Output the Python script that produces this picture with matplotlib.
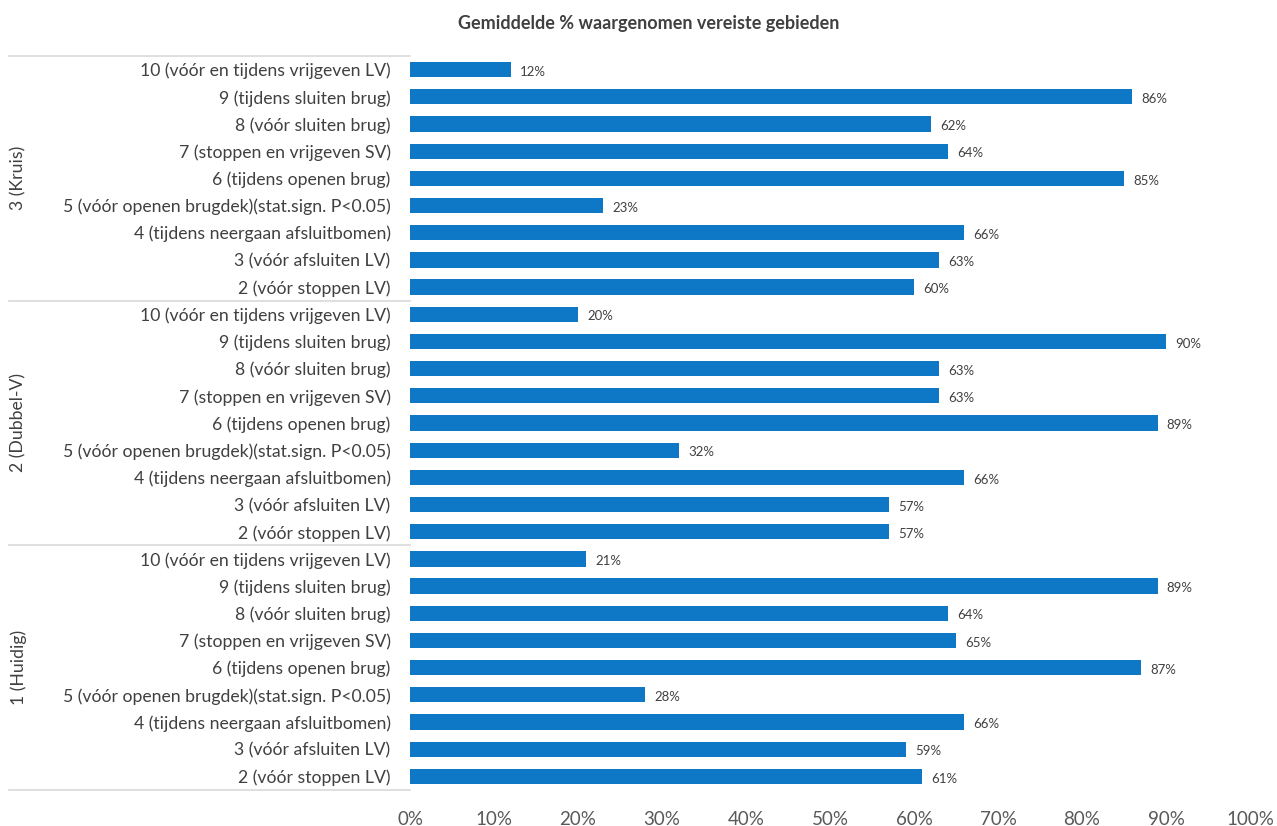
import matplotlib
matplotlib.use("Agg")
import matplotlib.pyplot as plt
from matplotlib.transforms import blended_transform_factory

title = "Gemiddelde % waargenomen vereiste gebieden"
steps = ["10 (vóór en tijdens vrijgeven LV)",
         "9 (tijdens sluiten brug)",
         "8 (vóór sluiten brug)",
         "7 (stoppen en vrijgeven SV)",
         "6 (tijdens openen brug)",
         "5 (vóór openen brugdek)(stat.sign. P<0.05)",
         "4 (tijdens neergaan afsluitbomen)",
         "3 (vóór afsluiten LV)",
         "2 (vóór stoppen LV)"]
groups = ["3 (Kruis)", "2 (Dubbel-V)", "1 (Huidig)"]
kruis = [12, 86, 62, 64, 85, 23, 66, 63, 60]
dubbel_v = [20, 90, 63, 63, 89, 32, 66, 57, 57]
huidig = [21, 89, 64, 65, 87, 28, 66, 59, 61]
xticks = [0, 10, 20, 30, 40, 50, 60, 70, 80, 90, 100]

plt.rcParams['font.family'] = ['Lato', 'DejaVu Sans']
fig = plt.figure(figsize=(12.77, 8.26), dpi=100)
ax = fig.add_axes([410/1277, 1-790/826, 840/1277, 734/826])

values = kruis + dubbel_v + huidig
labels = steps * 3
ypos = list(range(len(values)))
blue = "#0f78c6"
ax.barh(ypos, values, height=0.56, color=blue)
ax.set_ylim(len(values) - 0.5, -0.5)
ax.set_xlim(0, 100)
ax.set_yticks(ypos)
ax.set_yticklabels(labels, fontsize=12.7, color="#404040")
ax.set_xticks(xticks)
ax.set_xticklabels([f"{t}%" for t in xticks], fontsize=13.5, color="#595959")
ax.tick_params(axis='both', length=0)
ax.tick_params(axis='y', pad=14)
ax.tick_params(axis='x', pad=15)
for s in ax.spines.values():
    s.set_visible(False)

for y, v in zip(ypos, values):
    ax.text(v + 1.1, y + 0.08, f"{v}%", va='center', ha='left', fontsize=9.5, color="#404040")

trans = blended_transform_factory(ax.transAxes, ax.transData)
n = len(steps)
for k in range(len(groups) + 1):
    yb = k * n - 0.5
    ax.plot([-0.477, 0.0], [yb, yb], transform=trans, color="#d9d9d9", lw=1.2, clip_on=False)
for k, g in enumerate(groups):
    yc = k * n + (n - 1) / 2
    ax.text(-0.466, yc, g, transform=trans, rotation=90, va='center', ha='center',
            fontsize=12.7, color="#404040")

fig.text(0.508, 0.972, title, ha='center', va='center', fontsize=13, fontweight='bold', color="#404040")
fig.savefig("out.png", dpi=100)
